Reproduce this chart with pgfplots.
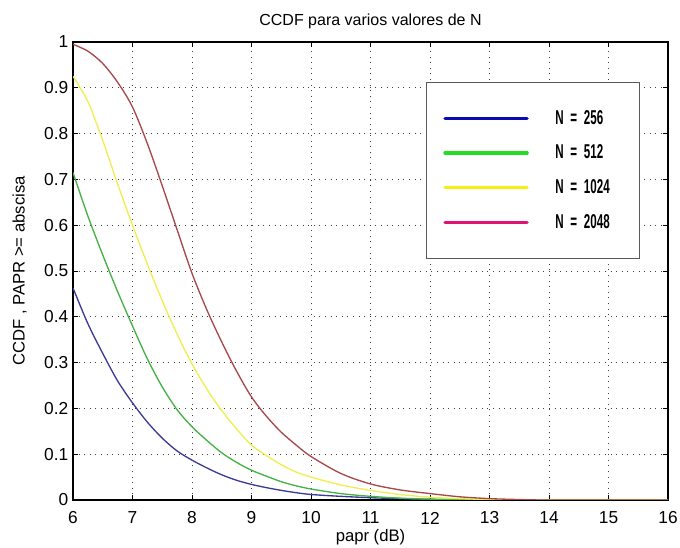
\documentclass[border=0pt]{standalone}
\usepackage{fontspec}
\setmainfont{Liberation Sans}
\newfontfamily\legfont[FakeStretch=0.58]{Liberation Sans}
\usepackage{pgfplots}
\pgfplotsset{compat=1.18}
\usetikzlibrary{calc}

% curve colours
\definecolor{cblue}{RGB}{60,60,150}
\definecolor{cgreen}{RGB}{70,178,70}
\definecolor{cyellow}{RGB}{238,238,80}
\definecolor{cred}{RGB}{168,72,72}
% legend colours
\definecolor{lblue}{RGB}{10,10,180}
\definecolor{lgreen}{RGB}{34,221,34}
\definecolor{lyellow}{RGB}{245,240,16}
\definecolor{lmag}{RGB}{224,20,110}

\begin{document}
\begin{tikzpicture}
\begin{axis}[
  name=ax,
  scale only axis,
  width=446.25pt,
  height=343.5pt,
  xmin=6, xmax=16,
  ymin=0, ymax=1,
  xtick={6,7,...,16},
  ytick={0,0.1,0.2,0.3,0.4,0.5,0.6,0.7,0.8,0.9,1},
  yticklabels={0,0.1,0.2,0.3,0.4,0.5,0.6,0.7,0.8,0.9,1},
  /pgf/number format/assume math mode=true,
  tick align=inside,
  major tick length=4pt,
  tick style={black, line width=0.7pt},
  axis line style={black, line width=0.8pt},
  grid=major,
  major grid style={black!75, line width=0.7pt, dash pattern=on 0.8pt off 3.4pt},
  ticklabel style={font=\fontsize{13}{15}\selectfont},
  xticklabel style={anchor=center, yshift=-13.5pt},
  every axis title shift=0pt,
  title={CCDF para varios valores de N},
  title style={font=\fontsize{12}{14}\selectfont, at={(axis description cs:0.5,1)}, anchor=center, yshift=15.5pt},
  xlabel={papr (dB)},
  xlabel style={font=\fontsize{12.5}{14}\selectfont, at={(axis description cs:0.5,0)}, anchor=center, yshift=-28pt},
  ylabel={CCDF , PAPR >= abscisa},
  ylabel style={font=\fontsize{12.5}{14}\selectfont, at={(axis description cs:0,0.5)}, anchor=center, rotate=0, yshift=40pt},
  legend image code/.code={\draw[#1, line width=2.6pt, line cap=round] (0pt,0pt) -- (61.5pt,0pt);},
  legend style={
    at={(axis description cs:0.593,0.913)}, anchor=north west,
    draw=black!65, line width=0.7pt, fill=white,
    inner xsep=12.75pt, inner ysep=14pt,
    cells={anchor=west},
    nodes={inner sep=0pt, minimum height=26pt, text width=50pt,
           font=\legfont\bfseries\fontsize{15}{17}\selectfont},
    /tikz/every odd column/.append style={column sep=20pt},
  },
]

\addplot[color=cblue, line width=1pt, smooth, forget plot] table[row sep=crcr]{
6.0 0.463\\ 6.25 0.385\\ 6.5 0.32\\ 6.75 0.26\\ 7.0 0.212\\ 7.25 0.17\\
7.5 0.135\\ 7.75 0.107\\ 8.0 0.087\\ 8.25 0.07\\ 8.5 0.055\\ 8.75 0.043\\
9.0 0.034\\ 9.25 0.027\\ 9.5 0.021\\ 9.75 0.016\\ 10.0 0.012\\ 10.5 0.008\\
11.0 0.005\\ 11.5 0.003\\ 12.0 0.0015\\ 12.5 0.0005\\ 13 0\\ 16 0\\
};

\addplot[color=cgreen, line width=1pt, smooth, forget plot] table[row sep=crcr]{
6.0 0.715\\ 6.25 0.62\\ 6.5 0.535\\ 6.75 0.455\\ 7.0 0.38\\ 7.25 0.308\\
7.5 0.247\\ 7.75 0.197\\ 8.0 0.16\\ 8.25 0.13\\ 8.5 0.103\\ 8.75 0.082\\
9.0 0.065\\ 9.25 0.052\\ 9.5 0.04\\ 9.75 0.031\\ 10.0 0.024\\ 10.5 0.014\\
11.0 0.008\\ 11.5 0.004\\ 12.0 0.002\\ 12.5 0.001\\ 13 0\\ 16 0\\
};

\addplot[color=cyellow, line width=1pt, smooth, forget plot] table[row sep=crcr]{
6.0 0.925\\ 6.25 0.87\\ 6.5 0.785\\ 6.75 0.69\\ 7.0 0.6\\ 7.25 0.515\\
7.5 0.435\\ 7.75 0.362\\ 8.0 0.297\\ 8.25 0.242\\ 8.5 0.195\\ 8.75 0.155\\
9.0 0.12\\ 9.25 0.097\\ 9.5 0.077\\ 9.75 0.061\\ 10.0 0.05\\ 10.5 0.033\\
11.0 0.021\\ 11.5 0.012\\ 12.0 0.006\\ 12.5 0.003\\ 13.0 0.001\\ 13.5 0\\ 16 0\\
};

\addplot[color=cred, line width=1pt, smooth, forget plot] table[row sep=crcr]{
6.0 0.995\\ 6.25 0.98\\ 6.5 0.953\\ 6.75 0.912\\ 7.0 0.858\\ 7.25 0.778\\
7.5 0.686\\ 7.75 0.59\\ 8.0 0.495\\ 8.25 0.415\\ 8.5 0.345\\ 8.75 0.281\\
9.0 0.225\\ 9.25 0.183\\ 9.5 0.148\\ 9.75 0.12\\ 10.0 0.095\\ 10.5 0.058\\
11.0 0.035\\ 11.5 0.022\\ 12.0 0.014\\ 12.5 0.007\\ 13.0 0.003\\ 13.5 0.001\\
14 0\\ 16 0\\
};

\addlegendimage{color=lblue}
\addlegendentry{N = 256}
\addlegendimage{color=lgreen}
\addlegendentry{N = 512}
\addlegendimage{color=lyellow}
\addlegendentry{N = 1024}
\addlegendimage{color=lmag}
\addlegendentry{N = 2048}

\end{axis}
\pgfresetboundingbox
\path ($(ax.south west)+(-54.75pt,-36pt)$) rectangle ($(ax.north east)+(9pt,31.5pt)$);
\end{tikzpicture}
\end{document}
